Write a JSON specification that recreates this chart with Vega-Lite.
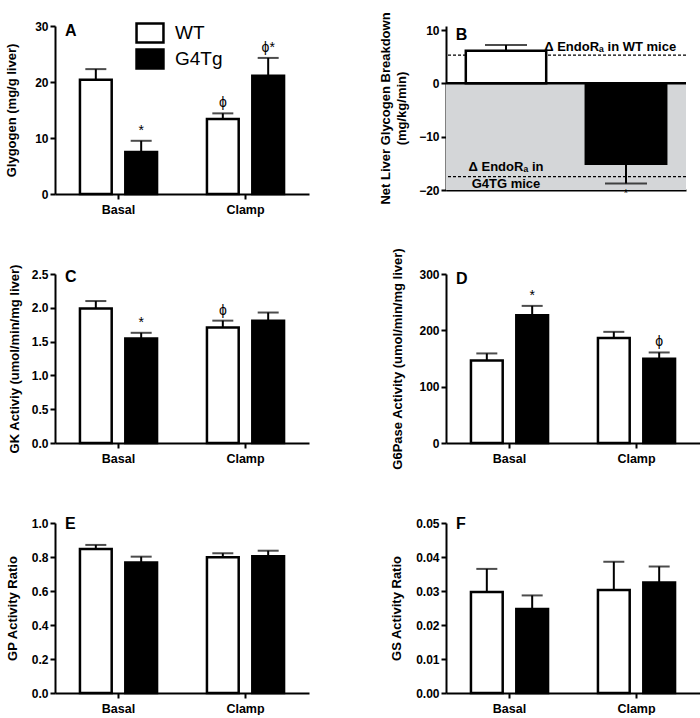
{
  "$schema": "https://vega.github.io/schema/vega-lite/v6.json",
  "background": "white",
  "padding": {"left": 5, "top": 11, "right": 0, "bottom": 0},
  "config": {
    "font": "Liberation Sans",
    "view": {"stroke": null},
    "axis": {
      "grid": false, "domainColor": "black", "domainWidth": 2, "tickColor": "black", "tickWidth": 2, "tickSize": 5,
      "labelColor": "black", "labelFont": "Liberation Sans", "labelFontWeight": "bold", "labelFontSize": 12, "labelPadding": 2,
      "titleColor": "black", "titleFont": "Liberation Sans", "titleFontWeight": "bold", "titleFontSize": 13
    },
    "axisX": {"labelAngle": 0, "labelFontSize": 12.5, "labelPadding": 4},
    "text": {"font": "Liberation Sans", "color": "black", "fill": "black"}
  },
  "datasets": {
    "glycogen": [
      {"cond": "Basal", "genotype": "WT", "mean": 20.4, "upper": 22.3, "ann": ""},
      {"cond": "Basal", "genotype": "G4Tg", "mean": 7.5, "upper": 9.5, "ann": "*"},
      {"cond": "Clamp", "genotype": "WT", "mean": 13.4, "upper": 14.4, "ann": "ϕ"},
      {"cond": "Clamp", "genotype": "G4Tg", "mean": 21.1, "upper": 24.3, "ann": "ϕ*"}
    ],
    "breakdown": [
      {"genotype": "WT", "mean": 6.1, "upper": 7.2, "ann": ""},
      {"genotype": "G4Tg", "mean": -15.1, "upper": -18.8, "ann": "*"}
    ],
    "endo": [
      {"genotype": "WT", "level": 5.3, "note": "Δ EndoRₐ in WT mice"},
      {"genotype": "G4Tg", "level": -17.5, "note": "Δ EndoRₐ in\nG4TG mice"}
    ],
    "gk": [
      {"cond": "Basal", "genotype": "WT", "mean": 1.99, "upper": 2.10, "ann": ""},
      {"cond": "Basal", "genotype": "G4Tg", "mean": 1.545, "upper": 1.63, "ann": "*"},
      {"cond": "Clamp", "genotype": "WT", "mean": 1.71, "upper": 1.81, "ann": "ϕ"},
      {"cond": "Clamp", "genotype": "G4Tg", "mean": 1.81, "upper": 1.93, "ann": ""}
    ],
    "g6pase": [
      {"cond": "Basal", "genotype": "WT", "mean": 146.5, "upper": 159, "ann": ""},
      {"cond": "Basal", "genotype": "G4Tg", "mean": 226.8, "upper": 243.4, "ann": "*"},
      {"cond": "Clamp", "genotype": "WT", "mean": 186.6, "upper": 197.3, "ann": ""},
      {"cond": "Clamp", "genotype": "G4Tg", "mean": 149.4, "upper": 160.7, "ann": "ϕ"}
    ],
    "gp": [
      {"cond": "Basal", "genotype": "WT", "mean": 0.847, "upper": 0.871, "ann": ""},
      {"cond": "Basal", "genotype": "G4Tg", "mean": 0.767, "upper": 0.802, "ann": ""},
      {"cond": "Clamp", "genotype": "WT", "mean": 0.798, "upper": 0.822, "ann": ""},
      {"cond": "Clamp", "genotype": "G4Tg", "mean": 0.804, "upper": 0.837, "ann": ""}
    ],
    "gs": [
      {"cond": "Basal", "genotype": "WT", "mean": 0.0297, "upper": 0.0365, "ann": ""},
      {"cond": "Basal", "genotype": "G4Tg", "mean": 0.0247, "upper": 0.0287, "ann": ""},
      {"cond": "Clamp", "genotype": "WT", "mean": 0.0303, "upper": 0.0386, "ann": ""},
      {"cond": "Clamp", "genotype": "G4Tg", "mean": 0.0325, "upper": 0.0372, "ann": ""}
    ]
  },
  "columns": 2,
  "bounds": "flush",
  "spacing": {"row": 80, "column": 137},
  "resolve": {"scale": {"fill": "independent", "xOffset": "independent"}, "legend": {"fill": "independent"}},
  "concat": [
    {
      "width": 254, "height": 168,
      "layer": [
        {"data": {"name": "glycogen"}, "mark": {"type": "bar", "stroke": "black", "strokeWidth": 2.5},
         "encoding": {
           "x": {"field": "cond", "type": "nominal", "sort": ["Basal", "Clamp"], "scale": {"paddingInner": 0, "paddingOuter": 0}, "axis": {"title": null}},
           "xOffset": {"field": "genotype", "type": "nominal", "sort": ["WT", "G4Tg"], "scale": {"paddingInner": 0.3, "paddingOuter": 0.55}},
           "y": {"field": "mean", "type": "quantitative", "title": "Glygogen (mg/g liver)", "scale": {"domain": [0, 30], "nice": false}, "axis": {"values": [0, 10, 20, 30], "titlePadding": 16}},
           "fill": {"field": "genotype", "type": "nominal", "scale": {"domain": ["WT", "G4Tg"], "range": ["white", "black"]},
             "legend": {"title": null, "orient": "none", "legendX": 84, "legendY": -4, "padding": 0, "symbolType": "M-1.4,-1H1.4V1H-1.4Z", "symbolSize": 370, "symbolStrokeColor": "black", "symbolStrokeWidth": 2.5, "labelFontSize": 19, "labelFontWeight": "normal", "labelFont": "Liberation Sans", "labelColor": "black", "labelOffset": 14, "rowPadding": -19}}
         }},
        {"data": {"name": "glycogen"}, "mark": {"type": "rule", "color": "black", "strokeWidth": 2},
         "encoding": {
           "x": {"field": "cond", "type": "nominal", "sort": ["Basal", "Clamp"]},
           "xOffset": {"field": "genotype", "type": "nominal", "sort": ["WT", "G4Tg"]},
           "y": {"field": "mean", "type": "quantitative", "title": "Glygogen (mg/g liver)", "axis": {"values": [0, 10, 20, 30], "titlePadding": 16}}, "y2": {"field": "upper"}
         }},
        {"data": {"name": "glycogen"}, "mark": {"type": "tick", "color": "black", "thickness": 2, "size": 21},
         "encoding": {
           "x": {"field": "cond", "type": "nominal", "sort": ["Basal", "Clamp"]},
           "xOffset": {"field": "genotype", "type": "nominal", "sort": ["WT", "G4Tg"]},
           "y": {"field": "upper", "type": "quantitative", "title": "Glygogen (mg/g liver)", "axis": {"values": [0, 10, 20, 30], "titlePadding": 16}}
         }},
        {"data": {"name": "glycogen"}, "mark": {"type": "text", "baseline": "bottom", "dy": -3, "fontSize": 14, "color": "black"},
         "encoding": {
           "x": {"field": "cond", "type": "nominal", "sort": ["Basal", "Clamp"]},
           "xOffset": {"field": "genotype", "type": "nominal", "sort": ["WT", "G4Tg"]},
           "y": {"field": "upper", "type": "quantitative", "title": "Glygogen (mg/g liver)", "axis": {"values": [0, 10, 20, 30], "titlePadding": 16}},
           "text": {"field": "ann"}
         }},
        {"data": {"values": [{"letter": "A"}]}, "mark": {"type": "text", "align": "left", "baseline": "top", "dx": 10, "dy": -3, "fontSize": 16, "fontWeight": "bold", "color": "black"},
         "encoding": {
           "x": {"datum": "Basal", "bandPosition": 0},
           "y": {"datum": 30, "type": "quantitative", "title": "Glygogen (mg/g liver)", "axis": {"values": [0, 10, 20, 30], "titlePadding": 16}},
           "text": {"field": "letter"}
         }}
      ]
    },
    {
      "width": 240, "height": 164,
      "layer": [
        {"data": {"values": [{"from": 0, "to": -20}]}, "mark": {"type": "rect", "color": "#d4d6d8"},
         "encoding": {
           "y": {"field": "from", "type": "quantitative", "title": ["Net Liver Glycogen Breakdown", "(mg/kg/min)"], "scale": {"domain": [-20, 10.75], "nice": false, "zero": false}, "axis": {"values": [-20, -10, 0, 10], "titlePadding": 10, "titleLineHeight": 16}},
           "y2": {"field": "to"}
         }},
        {"data": {"name": "endo"}, "mark": {"type": "rule", "color": "black", "strokeWidth": 1.2, "strokeDash": [3, 2]},
         "encoding": {"y": {"field": "level", "type": "quantitative", "title": ["Net Liver Glycogen Breakdown", "(mg/kg/min)"], "axis": {"values": [-20, -10, 0, 10], "titlePadding": 10, "titleLineHeight": 16}}}},
        {"data": {"name": "breakdown"}, "mark": {"type": "bar", "stroke": "black", "strokeWidth": 2.5},
         "encoding": {
           "x": {"field": "genotype", "type": "nominal", "sort": ["WT", "G4Tg"], "scale": {"paddingInner": 0.33, "paddingOuter": 0.165}, "axis": {"title": null, "labels": false, "ticks": false}},
           "y": {"field": "mean", "type": "quantitative", "title": ["Net Liver Glycogen Breakdown", "(mg/kg/min)"], "axis": {"values": [-20, -10, 0, 10], "titlePadding": 10, "titleLineHeight": 16}},
           "fill": {"field": "genotype", "type": "nominal", "scale": {"domain": ["WT", "G4Tg"], "range": ["white", "black"]}, "legend": null}
         }},
        {"data": {"values": [{"zero": 0}]}, "mark": {"type": "rule", "color": "black", "strokeWidth": 2.5},
         "encoding": {"y": {"field": "zero", "type": "quantitative", "title": ["Net Liver Glycogen Breakdown", "(mg/kg/min)"], "axis": {"values": [-20, -10, 0, 10], "titlePadding": 10, "titleLineHeight": 16}}}},
        {"data": {"name": "breakdown"}, "mark": {"type": "rule", "color": "black", "strokeWidth": 2},
         "encoding": {
           "x": {"field": "genotype", "type": "nominal", "sort": ["WT", "G4Tg"]},
           "y": {"field": "mean", "type": "quantitative", "title": ["Net Liver Glycogen Breakdown", "(mg/kg/min)"], "axis": {"values": [-20, -10, 0, 10], "titlePadding": 10, "titleLineHeight": 16}}, "y2": {"field": "upper"}
         }},
        {"data": {"name": "breakdown"}, "mark": {"type": "tick", "color": "black", "thickness": 2, "size": 42},
         "encoding": {
           "x": {"field": "genotype", "type": "nominal", "sort": ["WT", "G4Tg"]},
           "y": {"field": "upper", "type": "quantitative", "title": ["Net Liver Glycogen Breakdown", "(mg/kg/min)"], "axis": {"values": [-20, -10, 0, 10], "titlePadding": 10, "titleLineHeight": 16}}
         }},
        {"data": {"name": "breakdown"}, "mark": {"type": "text", "baseline": "top", "dy": 4, "fontSize": 11, "color": "black"},
         "encoding": {
           "x": {"field": "genotype", "type": "nominal", "sort": ["WT", "G4Tg"]},
           "y": {"field": "upper", "type": "quantitative", "title": ["Net Liver Glycogen Breakdown", "(mg/kg/min)"], "axis": {"values": [-20, -10, 0, 10], "titlePadding": 10, "titleLineHeight": 16}},
           "text": {"field": "ann"}
         }},
        {"data": {"name": "endo"}, "transform": [{"filter": "datum.genotype === 'WT'"}],
         "mark": {"type": "text", "align": "right", "baseline": "bottom", "dx": 10, "dy": -1, "fontSize": 13, "fontWeight": "bold", "color": "black"},
         "encoding": {
           "x": {"datum": "G4Tg", "bandPosition": 1},
           "y": {"field": "level", "type": "quantitative", "title": ["Net Liver Glycogen Breakdown", "(mg/kg/min)"], "axis": {"values": [-20, -10, 0, 10], "titlePadding": 10, "titleLineHeight": 16}},
           "text": {"field": "note"}
         }},
        {"data": {"name": "endo"}, "transform": [{"filter": "datum.genotype === 'G4Tg'"}],
         "mark": {"type": "text", "align": "center", "baseline": "bottom", "dy": -3, "fontSize": 13, "fontWeight": "bold", "lineBreak": "\n", "lineHeight": 17, "color": "black"},
         "encoding": {
           "x": {"datum": "WT"},
           "y": {"field": "level", "type": "quantitative", "title": ["Net Liver Glycogen Breakdown", "(mg/kg/min)"], "axis": {"values": [-20, -10, 0, 10], "titlePadding": 10, "titleLineHeight": 16}},
           "text": {"field": "note"}
         }},
        {"data": {"values": [{"letter": "B"}]}, "mark": {"type": "text", "align": "left", "baseline": "top", "dx": -10, "dy": -3, "fontSize": 16, "fontWeight": "bold", "color": "black"},
         "encoding": {
           "x": {"datum": "WT", "bandPosition": 0},
           "y": {"datum": 10, "type": "quantitative", "title": ["Net Liver Glycogen Breakdown", "(mg/kg/min)"], "axis": {"values": [-20, -10, 0, 10], "titlePadding": 10, "titleLineHeight": 16}},
           "text": {"field": "letter"}
         }}
      ]
    },
    {
      "width": 254, "height": 169,
      "layer": [
        {"data": {"name": "gk"}, "mark": {"type": "bar", "stroke": "black", "strokeWidth": 2.5},
         "encoding": {
           "x": {"field": "cond", "type": "nominal", "sort": ["Basal", "Clamp"], "scale": {"paddingInner": 0, "paddingOuter": 0}, "axis": {"title": null}},
           "xOffset": {"field": "genotype", "type": "nominal", "sort": ["WT", "G4Tg"], "scale": {"paddingInner": 0.3, "paddingOuter": 0.55}},
           "y": {"field": "mean", "type": "quantitative", "title": "GK Activiy (umol/min/mg liver)", "scale": {"domain": [0, 2.5], "nice": false}, "axis": {"values": [0, 0.5, 1, 1.5, 2, 2.5], "format": ".1f", "titlePadding": 10}},
           "fill": {"field": "genotype", "type": "nominal", "scale": {"domain": ["WT", "G4Tg"], "range": ["white", "black"]}, "legend": null}
         }},
        {"data": {"name": "gk"}, "mark": {"type": "rule", "color": "black", "strokeWidth": 2},
         "encoding": {
           "x": {"field": "cond", "type": "nominal", "sort": ["Basal", "Clamp"]},
           "xOffset": {"field": "genotype", "type": "nominal", "sort": ["WT", "G4Tg"]},
           "y": {"field": "mean", "type": "quantitative", "title": "GK Activiy (umol/min/mg liver)", "axis": {"values": [0, 0.5, 1, 1.5, 2, 2.5], "format": ".1f", "titlePadding": 10}}, "y2": {"field": "upper"}
         }},
        {"data": {"name": "gk"}, "mark": {"type": "tick", "color": "black", "thickness": 2, "size": 21},
         "encoding": {
           "x": {"field": "cond", "type": "nominal", "sort": ["Basal", "Clamp"]},
           "xOffset": {"field": "genotype", "type": "nominal", "sort": ["WT", "G4Tg"]},
           "y": {"field": "upper", "type": "quantitative", "title": "GK Activiy (umol/min/mg liver)", "axis": {"values": [0, 0.5, 1, 1.5, 2, 2.5], "format": ".1f", "titlePadding": 10}}
         }},
        {"data": {"name": "gk"}, "mark": {"type": "text", "baseline": "bottom", "dy": -3, "fontSize": 14, "color": "black"},
         "encoding": {
           "x": {"field": "cond", "type": "nominal", "sort": ["Basal", "Clamp"]},
           "xOffset": {"field": "genotype", "type": "nominal", "sort": ["WT", "G4Tg"]},
           "y": {"field": "upper", "type": "quantitative", "title": "GK Activiy (umol/min/mg liver)", "axis": {"values": [0, 0.5, 1, 1.5, 2, 2.5], "format": ".1f", "titlePadding": 10}},
           "text": {"field": "ann"}
         }},
        {"data": {"values": [{"letter": "C"}]}, "mark": {"type": "text", "align": "left", "baseline": "top", "dx": 10, "dy": -5, "fontSize": 16, "fontWeight": "bold", "color": "black"},
         "encoding": {
           "x": {"datum": "Basal", "bandPosition": 0},
           "y": {"datum": 2.5, "type": "quantitative", "title": "GK Activiy (umol/min/mg liver)", "axis": {"values": [0, 0.5, 1, 1.5, 2, 2.5], "format": ".1f", "titlePadding": 10}},
           "text": {"field": "letter"}
         }}
      ]
    },
    {
      "width": 254, "height": 169,
      "layer": [
        {"data": {"name": "g6pase"}, "mark": {"type": "bar", "stroke": "black", "strokeWidth": 2.5},
         "encoding": {
           "x": {"field": "cond", "type": "nominal", "sort": ["Basal", "Clamp"], "scale": {"paddingInner": 0, "paddingOuter": 0}, "axis": {"title": null}},
           "xOffset": {"field": "genotype", "type": "nominal", "sort": ["WT", "G4Tg"], "scale": {"paddingInner": 0.3, "paddingOuter": 0.55}},
           "y": {"field": "mean", "type": "quantitative", "title": "G6Pase Activity (umol/min/mg liver)", "scale": {"domain": [0, 300], "nice": false}, "axis": {"values": [0, 100, 200, 300], "titlePadding": 14}},
           "fill": {"field": "genotype", "type": "nominal", "scale": {"domain": ["WT", "G4Tg"], "range": ["white", "black"]}, "legend": null}
         }},
        {"data": {"name": "g6pase"}, "mark": {"type": "rule", "color": "black", "strokeWidth": 2},
         "encoding": {
           "x": {"field": "cond", "type": "nominal", "sort": ["Basal", "Clamp"]},
           "xOffset": {"field": "genotype", "type": "nominal", "sort": ["WT", "G4Tg"]},
           "y": {"field": "mean", "type": "quantitative", "title": "G6Pase Activity (umol/min/mg liver)", "axis": {"values": [0, 100, 200, 300], "titlePadding": 14}}, "y2": {"field": "upper"}
         }},
        {"data": {"name": "g6pase"}, "mark": {"type": "tick", "color": "black", "thickness": 2, "size": 21},
         "encoding": {
           "x": {"field": "cond", "type": "nominal", "sort": ["Basal", "Clamp"]},
           "xOffset": {"field": "genotype", "type": "nominal", "sort": ["WT", "G4Tg"]},
           "y": {"field": "upper", "type": "quantitative", "title": "G6Pase Activity (umol/min/mg liver)", "axis": {"values": [0, 100, 200, 300], "titlePadding": 14}}
         }},
        {"data": {"name": "g6pase"}, "mark": {"type": "text", "baseline": "bottom", "dy": -3, "fontSize": 14, "color": "black"},
         "encoding": {
           "x": {"field": "cond", "type": "nominal", "sort": ["Basal", "Clamp"]},
           "xOffset": {"field": "genotype", "type": "nominal", "sort": ["WT", "G4Tg"]},
           "y": {"field": "upper", "type": "quantitative", "title": "G6Pase Activity (umol/min/mg liver)", "axis": {"values": [0, 100, 200, 300], "titlePadding": 14}},
           "text": {"field": "ann"}
         }},
        {"data": {"values": [{"letter": "D"}]}, "mark": {"type": "text", "align": "left", "baseline": "top", "dx": 10, "dy": -3, "fontSize": 16, "fontWeight": "bold", "color": "black"},
         "encoding": {
           "x": {"datum": "Basal", "bandPosition": 0},
           "y": {"datum": 300, "type": "quantitative", "title": "G6Pase Activity (umol/min/mg liver)", "axis": {"values": [0, 100, 200, 300], "titlePadding": 14}},
           "text": {"field": "letter"}
         }}
      ]
    },
    {
      "width": 254, "height": 170,
      "layer": [
        {"data": {"name": "gp"}, "mark": {"type": "bar", "stroke": "black", "strokeWidth": 2.5},
         "encoding": {
           "x": {"field": "cond", "type": "nominal", "sort": ["Basal", "Clamp"], "scale": {"paddingInner": 0, "paddingOuter": 0}, "axis": {"title": null}},
           "xOffset": {"field": "genotype", "type": "nominal", "sort": ["WT", "G4Tg"], "scale": {"paddingInner": 0.3, "paddingOuter": 0.55}},
           "y": {"field": "mean", "type": "quantitative", "title": "GP Activity Ratio", "scale": {"domain": [0, 1], "nice": false}, "axis": {"values": [0, 0.2, 0.4, 0.6, 0.8, 1], "format": ".1f", "titlePadding": 12}},
           "fill": {"field": "genotype", "type": "nominal", "scale": {"domain": ["WT", "G4Tg"], "range": ["white", "black"]}, "legend": null}
         }},
        {"data": {"name": "gp"}, "mark": {"type": "rule", "color": "black", "strokeWidth": 2},
         "encoding": {
           "x": {"field": "cond", "type": "nominal", "sort": ["Basal", "Clamp"]},
           "xOffset": {"field": "genotype", "type": "nominal", "sort": ["WT", "G4Tg"]},
           "y": {"field": "mean", "type": "quantitative", "title": "GP Activity Ratio", "axis": {"values": [0, 0.2, 0.4, 0.6, 0.8, 1], "format": ".1f", "titlePadding": 12}}, "y2": {"field": "upper"}
         }},
        {"data": {"name": "gp"}, "mark": {"type": "tick", "color": "black", "thickness": 2, "size": 21},
         "encoding": {
           "x": {"field": "cond", "type": "nominal", "sort": ["Basal", "Clamp"]},
           "xOffset": {"field": "genotype", "type": "nominal", "sort": ["WT", "G4Tg"]},
           "y": {"field": "upper", "type": "quantitative", "title": "GP Activity Ratio", "axis": {"values": [0, 0.2, 0.4, 0.6, 0.8, 1], "format": ".1f", "titlePadding": 12}}
         }},
        {"data": {"values": [{"letter": "E"}]}, "mark": {"type": "text", "align": "left", "baseline": "top", "dx": 10, "dy": -7, "fontSize": 16, "fontWeight": "bold", "color": "black"},
         "encoding": {
           "x": {"datum": "Basal", "bandPosition": 0},
           "y": {"datum": 1, "type": "quantitative", "title": "GP Activity Ratio", "axis": {"values": [0, 0.2, 0.4, 0.6, 0.8, 1], "format": ".1f", "titlePadding": 12}},
           "text": {"field": "letter"}
         }}
      ]
    },
    {
      "width": 254, "height": 170,
      "layer": [
        {"data": {"name": "gs"}, "mark": {"type": "bar", "stroke": "black", "strokeWidth": 2.5},
         "encoding": {
           "x": {"field": "cond", "type": "nominal", "sort": ["Basal", "Clamp"], "scale": {"paddingInner": 0, "paddingOuter": 0}, "axis": {"title": null}},
           "xOffset": {"field": "genotype", "type": "nominal", "sort": ["WT", "G4Tg"], "scale": {"paddingInner": 0.3, "paddingOuter": 0.55}},
           "y": {"field": "mean", "type": "quantitative", "title": "GS Activity Ratio", "scale": {"domain": [0, 0.05], "nice": false}, "axis": {"values": [0, 0.01, 0.02, 0.03, 0.04, 0.05], "format": ".2f", "titlePadding": 12}},
           "fill": {"field": "genotype", "type": "nominal", "scale": {"domain": ["WT", "G4Tg"], "range": ["white", "black"]}, "legend": null}
         }},
        {"data": {"name": "gs"}, "mark": {"type": "rule", "color": "black", "strokeWidth": 2},
         "encoding": {
           "x": {"field": "cond", "type": "nominal", "sort": ["Basal", "Clamp"]},
           "xOffset": {"field": "genotype", "type": "nominal", "sort": ["WT", "G4Tg"]},
           "y": {"field": "mean", "type": "quantitative", "title": "GS Activity Ratio", "axis": {"values": [0, 0.01, 0.02, 0.03, 0.04, 0.05], "format": ".2f", "titlePadding": 12}}, "y2": {"field": "upper"}
         }},
        {"data": {"name": "gs"}, "mark": {"type": "tick", "color": "black", "thickness": 2, "size": 21},
         "encoding": {
           "x": {"field": "cond", "type": "nominal", "sort": ["Basal", "Clamp"]},
           "xOffset": {"field": "genotype", "type": "nominal", "sort": ["WT", "G4Tg"]},
           "y": {"field": "upper", "type": "quantitative", "title": "GS Activity Ratio", "axis": {"values": [0, 0.01, 0.02, 0.03, 0.04, 0.05], "format": ".2f", "titlePadding": 12}}
         }},
        {"data": {"values": [{"letter": "F"}]}, "mark": {"type": "text", "align": "left", "baseline": "top", "dx": 10, "dy": -7, "fontSize": 16, "fontWeight": "bold", "color": "black"},
         "encoding": {
           "x": {"datum": "Basal", "bandPosition": 0},
           "y": {"datum": 0.05, "type": "quantitative", "title": "GS Activity Ratio", "axis": {"values": [0, 0.01, 0.02, 0.03, 0.04, 0.05], "format": ".2f", "titlePadding": 12}},
           "text": {"field": "letter"}
         }}
      ]
    }
  ]
}
